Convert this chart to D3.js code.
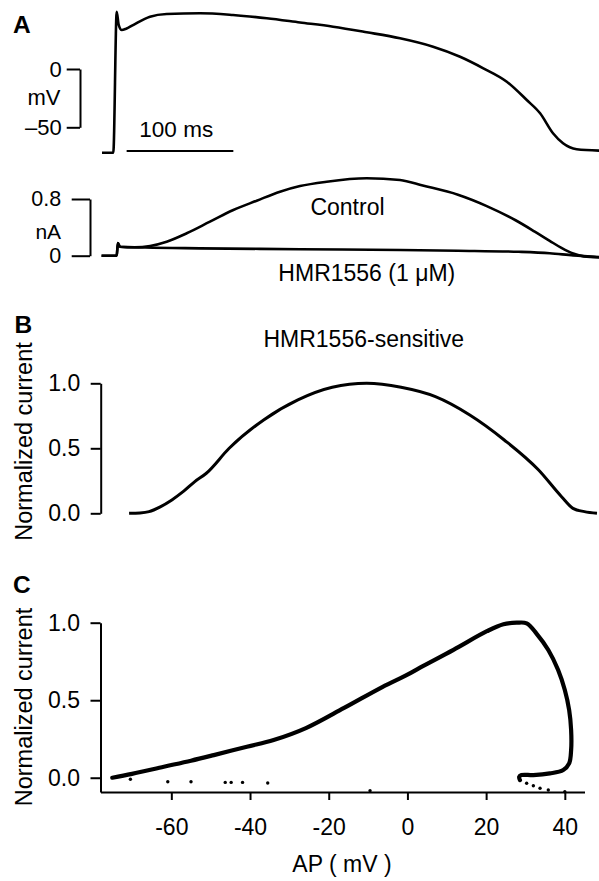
<!DOCTYPE html>
<html>
<head>
	<title></title>
	<meta charset="utf-8">
	<script src="https://d3js.org/d3.v7.min.js"></script>
	<style>
		body { margin: 0; background: #fff; }
		svg { display: block; font-family: "Liberation Sans", Arial, sans-serif; }
	</style>
</head>
<body>
<div id="fig"></div>
<script>

// ---- data ----
// A, top: action potential (time in ms from upstroke, mV)
var apTime = [-10.6, 0, 3.2, 5, 7.9, 12, 18.5, 34.4, 50, 81.3, 112.2, 143.8, 175, 206, 237.5, 268.7, 299.7, 325, 346.8, 368.8, 387.5, 400, 412.1, 421.5, 434.3, 456.2];
var apVolt = [-71.8, -71.8, 49, 38, 33.4, 34.5, 37.7, 44.9, 47.2, 47.8, 46.3, 43.5, 39.9, 36.3, 31.5, 26.3, 19.1, 10.5, 0.6, -10.9, -26.6, -38, -55.1, -63.7, -68.8, -70];

// A, bottom: current traces (nA)
var ctlTime = [-11, 3.2, 4.3, 6.2, 20, 34.5, 50, 68.8, 90.6, 112.5, 134.4, 156.2, 175, 200, 237.5, 268.7, 290, 323, 350, 377, 395, 409, 420, 431, 441, 456];
var ctlCurr = [0, 0, 0.18, 0.127, 0.12, 0.137, 0.197, 0.316, 0.48, 0.645, 0.776, 0.903, 0.983, 1.044, 1.092, 1.068, 0.99, 0.86, 0.7, 0.5, 0.34, 0.21, 0.11, 0.03, -0.01, -0.025];
var hmrTime = [-11, 3.2, 4.3, 6.2, 30, 81, 175, 269, 323, 380, 409, 431, 456];
var hmrCurr = [0, 0, 0.18, 0.127, 0.115, 0.104, 0.092, 0.08, 0.07, 0.055, 0.035, 0.005, -0.02];

// B: HMR1556-sensitive current, normalized
var sensTime = [14.8, 25, 33.5, 44, 54.9, 66, 76.4, 87.2, 108.6, 140.9, 173, 205.2, 237.5, 269.7, 301.9, 334.1, 366.4, 398.6, 420.1, 430.8, 441.5, 453.3];
var sensNorm = [0, 0.003, 0.013, 0.05, 0.103, 0.17, 0.244, 0.308, 0.5, 0.718, 0.872, 0.969, 1.0, 0.969, 0.897, 0.756, 0.564, 0.333, 0.128, 0.038, 0.013, 0];

// C: normalized current against AP voltage
var loopV = [-75, -70, -61.9, -55, -49.2, -40.8, -34, -25.8, -16.1, -6.4, 0, 3.2, 11.7, 20.2, 24.4, 27.8, 30.3, 32.8, 35.8, 38.3, 40, 41.1, 41.6, 41.6, 41.1, 39.6, 36.2, 32, 29, 28.4, 28.6];
var loopI = [0, 0.025, 0.071, 0.11, 0.146, 0.2, 0.243, 0.32, 0.45, 0.585, 0.665, 0.71, 0.825, 0.945, 0.99, 1.0, 0.996, 0.93, 0.824, 0.695, 0.566, 0.437, 0.308, 0.179, 0.093, 0.05, 0.028, 0.017, 0.017, 0.005, -0.015];
var dotV = [30.3, 32, 33.7, 35.8, 40, -70.4, -60.9, -55, -46.3, -44.8, -41.9, -35.5, -9.5];
var dotI = [-0.036, -0.052, -0.068, -0.079, -0.09, -0.01, -0.026, -0.026, -0.03, -0.03, -0.03, -0.034, -0.084];

var normTicks = [0, 0.5, 1];
var apTicks = [-60, -40, -20, 0, 20, 40];

// ---- svg ----
var W = 599, H = 881;
var svg = d3.select("#fig").append("svg")
    .attr("width", W)
    .attr("height", H);

function zip(a, b) { return a.map(function(d, i) { return [d, b[i]]; }); }

function styleAxis(g, size) {
  g.attr("font-size", size).attr("font-family", "Liberation Sans, Arial, sans-serif");
  g.selectAll("path, line").attr("stroke", "#000").attr("stroke-width", 2);
  g.selectAll("text").attr("fill", "#000");
}

// shared time scale for A and B
var t = d3.scaleLinear().domain([0, 100]).range([113.3, 220]);

// ---- A top: AP ----
var vA = d3.scaleLinear().domain([0, -50]).range([69, 127.3]);

svg.append("path")
  .datum(zip(apTime, apVolt))
  .attr("fill", "none").attr("stroke", "#000").attr("stroke-width", 2.6)
  .attr("d", d3.line().x(function(d) { return t(d[0]); }).y(function(d) { return vA(d[1]); }).curve(d3.curveMonotoneX));

var gV = svg.append("g")
  .attr("transform", "translate(80,0)")
  .call(d3.axisLeft(vA).tickValues([0, -50]).tickSize(13.3).tickSizeOuter(0).tickPadding(5)
    .tickFormat(function(d) { return d === 0 ? "0" : "\u201350"; }));
styleAxis(gV, 22);

svg.append("text").attr("x", 60.5).attr("y", 104.5).attr("text-anchor", "end")
  .attr("font-size", 22).text("mV");

// 100 ms scale bar
svg.append("line")
  .attr("x1", t(12.5)).attr("x2", t(112.5))
  .attr("y1", vA(-70.3)).attr("y2", vA(-70.3))
  .attr("stroke", "#000").attr("stroke-width", 2);
svg.append("text").attr("x", t(59)).attr("y", 136.7).attr("text-anchor", "middle")
  .attr("font-size", 22.5).text("100 ms");

// ---- A bottom: currents ----
var iA = d3.scaleLinear().domain([0, 0.8]).range([255.7, 199]);
var curLine = d3.line().x(function(d) { return t(d[0]); }).y(function(d) { return iA(d[1]); }).curve(d3.curveMonotoneX);

svg.append("path").datum(zip(hmrTime, hmrCurr))
  .attr("fill", "none").attr("stroke", "#000").attr("stroke-width", 2.6).attr("d", curLine);
svg.append("path").datum(zip(ctlTime, ctlCurr))
  .attr("fill", "none").attr("stroke", "#000").attr("stroke-width", 2.6).attr("d", curLine);

var gI = svg.append("g")
  .attr("transform", "translate(90,0)")
  .call(d3.axisLeft(iA).tickValues([0, 0.8]).tickSize(18.3).tickSizeOuter(0).tickPadding(10.6)
    .tickFormat(function(d) { return d === 0 ? "0" : "0.8"; }));
styleAxis(gI, 21.5);

svg.append("text").attr("x", 61.1).attr("y", 239).attr("text-anchor", "end")
  .attr("font-size", 21).text("nA");
svg.append("text").attr("x", 347.5).attr("y", 215).attr("text-anchor", "middle")
  .attr("font-size", 23).text("Control");
svg.append("text").attr("x", 366.8).attr("y", 280.5).attr("text-anchor", "middle")
  .attr("font-size", 23).text("HMR1556 (1 \u03bcM)");

// ---- B: sensitive current ----
var yB = d3.scaleLinear().domain([0, 1]).range([513.3, 383.3]);

svg.append("path").datum(zip(sensTime, sensNorm))
  .attr("fill", "none").attr("stroke", "#000").attr("stroke-width", 3)
  .attr("d", d3.line().x(function(d) { return t(d[0]); }).y(function(d) { return yB(d[1]); }).curve(d3.curveMonotoneX));

var gB = svg.append("g")
  .attr("transform", "translate(100.7,0)")
  .call(d3.axisLeft(yB).tickValues(normTicks).tickSize(10).tickSizeOuter(0).tickPadding(10.5)
    .tickFormat(d3.format(".1f")));
styleAxis(gB, 23);

svg.append("text").attr("x", 363.8).attr("y", 346.7).attr("text-anchor", "middle")
  .attr("font-size", 23).text("HMR1556-sensitive");

svg.append("text")
  .attr("transform", "translate(31.5,441.5) rotate(-90)")
  .attr("text-anchor", "middle").attr("font-size", 23.5).text("Normalized current");

// ---- C: I-V loop ----
var xC = d3.scaleLinear().domain([-78, 45]).range([100.5, 584.5]);
var yC = d3.scaleLinear().domain([-0.092, 1]).range([792, 622.7]);

var gCx = svg.append("g")
  .attr("transform", "translate(0," + yC(-0.092) + ")")
  .call(d3.axisBottom(xC).tickValues(apTicks).tickSize(8).tickSizeOuter(0).tickPadding(18.5)
    .tickFormat(function(d) { return String(d); }));
styleAxis(gCx, 23);

var gCy = svg.append("g")
  .attr("transform", "translate(" + xC(-78) + ",0)")
  .call(d3.axisLeft(yC).tickValues(normTicks).tickSize(10).tickSizeOuter(0).tickPadding(10.5)
    .tickFormat(d3.format(".1f")));
styleAxis(gCy, 23);

svg.append("path").datum(zip(loopV, loopI))
  .attr("fill", "none").attr("stroke", "#000").attr("stroke-width", 4.2)
  .attr("stroke-linejoin", "round").attr("stroke-linecap", "round")
  .attr("d", d3.line().x(function(d) { return xC(d[0]); }).y(function(d) { return yC(d[1]); }).curve(d3.curveCatmullRom));

svg.selectAll(".dot")
  .data(zip(dotV, dotI))
  .enter().append("circle")
  .attr("class", "dot")
  .attr("cx", function(d) { return xC(d[0]); })
  .attr("cy", function(d) { return yC(d[1]); })
  .attr("r", 1.7)
  .attr("fill", "#000");

svg.append("text")
  .attr("transform", "translate(31.5,707) rotate(-90)")
  .attr("text-anchor", "middle").attr("font-size", 23.5).text("Normalized current");

svg.append("text").attr("x", 342).attr("y", 872).attr("text-anchor", "middle")
  .attr("font-size", 23).text("AP ( mV )");

// ---- panel letters ----
var letters = [["A", 13, 33.3], ["B", 14.5, 333], ["C", 13, 593]];
svg.selectAll(".panel")
  .data(letters)
  .enter().append("text")
  .attr("class", "panel")
  .attr("x", function(d) { return d[1]; })
  .attr("y", function(d) { return d[2]; })
  .attr("font-size", 24.5).attr("font-weight", "bold")
  .text(function(d) { return d[0]; });

</script>
</body>
</html>
